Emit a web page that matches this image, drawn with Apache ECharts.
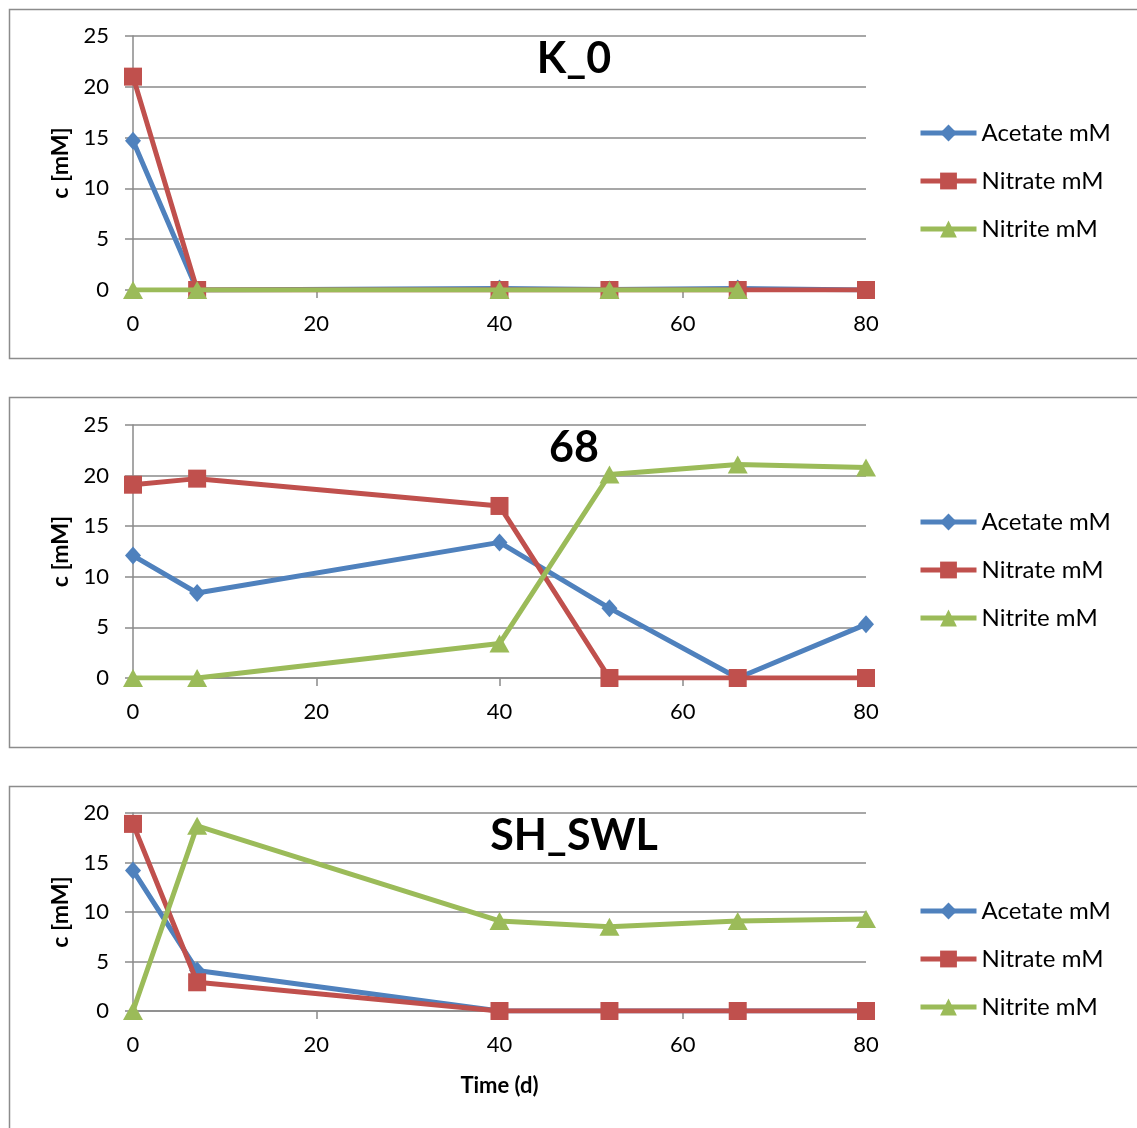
<!DOCTYPE html>
<html>
<head>
<meta charset="utf-8">
<script src="https://cdn.jsdelivr.net/npm/echarts@6/dist/echarts.min.js"></script>
<style>
  html, body { margin: 0; padding: 0; background: #fff; }
  #chart { width: 1137px; height: 1128px; }
</style>
</head>
<body>
<div id="chart"></div>
<script>
// Sampling days shared by all three incubations
const days = [0, 7, 40, 52, 66, 80];

// Panel titles
const panelTitles = ['K_0', '68', 'SH_SWL'];
const seriesNames = ['Acetate mM', 'Nitrate mM', 'Nitrite mM'];

// K_0
const k0Acetate = [14.7, 0, 0.15, 0.05, 0.15, 0];
const k0Nitrate = [21.0, 0, 0, 0, 0, 0];
const k0Nitrite = [0, 0, 0, 0, 0, null];

// 68
const s68Acetate = [12.1, 8.4, 13.4, 6.9, 0, 5.3];
const s68Nitrate = [19.1, 19.7, 17.0, 0, 0, 0];
const s68Nitrite = [0, 0, 3.4, 20.1, 21.1, 20.8];

// SH_SWL
const shAcetate = [14.2, 4.1, 0, 0, 0, 0];
const shNitrate = [18.9, 2.9, 0, 0, 0, 0];
const shNitrite = [0, 18.7, 9.1, 8.5, 9.1, 9.3];

// y-axis ranges per panel
const yMax = [25, 25, 20];
const yInterval = 5;
const xMax = 80;
const xInterval = 20;

const panelData = [
  [k0Acetate, k0Nitrate, k0Nitrite],
  [s68Acetate, s68Nitrate, s68Nitrite],
  [shAcetate, shNitrate, shNitrite]
];

const FONT = 'Lato, "Open Sans", sans-serif';
const GRID_COLOR = '#8a8a8a';
const colors = ['#4F81BD', '#C0504D', '#9BBB59'];
const symbols = ['diamond', 'rect', 'triangle'];
const symbolSizes = [[16, 18], [18, 18], [20, 18]];

// layout of the three stacked panels
const gridTops = [36, 425, 813];
const gridHeights = [254, 253, 198];
const legendTops = [114, 503, 892];
const titleTops = [33, 422, 810];
const frames = [
  { y: 7, h: 349 },
  { y: 395, h: 350 },
  { y: 784, h: 360 }
];

const grids = [], xAxes = [], yAxes = [], series = [], titles = [], legends = [];

for (let p = 0; p < 3; p++) {
  grids.push({ left: 133, width: 733, top: gridTops[p], height: gridHeights[p], containLabel: false });
  xAxes.push({
    type: 'value', gridIndex: p, min: 0, max: xMax, interval: xInterval,
    axisLine: { show: true, onZero: false, lineStyle: { color: GRID_COLOR, width: 1.5 } },
    axisTick: { show: true, inside: false, length: 8, lineStyle: { color: GRID_COLOR, width: 1.5 } },
    splitLine: { show: false },
    axisLabel: { color: '#000', fontSize: 22, fontFamily: FONT, margin: 23 },
    name: p === 2 ? 'Time (d)' : '',
    nameLocation: 'middle', nameGap: 64,
    nameTextStyle: { color: '#000', fontSize: 22, fontWeight: 'bold', fontFamily: FONT }
  });
  yAxes.push({
    type: 'value', gridIndex: p, min: 0, max: yMax[p], interval: yInterval,
    axisLine: { show: true, lineStyle: { color: GRID_COLOR, width: 1.5 } },
    axisTick: { show: true, inside: false, length: 8, lineStyle: { color: GRID_COLOR, width: 1.5 } },
    splitLine: { show: true, lineStyle: { color: GRID_COLOR, width: 1.5 } },
    axisLabel: { color: '#000', fontSize: 22, fontFamily: FONT, margin: 24 },
    name: 'c [mM]', nameLocation: 'middle', nameRotate: 90, nameGap: 61,
    nameTextStyle: { color: '#000', fontSize: 23, fontWeight: 'bold', fontFamily: FONT }
  });
  titles.push({
    text: panelTitles[p], left: 569, top: titleTops[p], textAlign: 'center',
    textStyle: { color: '#000', fontSize: 43, fontWeight: 'bold', fontFamily: FONT }
  });
  legends.push({
    data: seriesNames, orient: 'vertical', left: 913, top: legendTops[p],
    itemWidth: 56, itemHeight: 21, itemGap: 20,
    lineStyle: { width: 5 },
    textStyle: { color: '#000', fontSize: 24, fontFamily: FONT, lineHeight: 28 }
  });
  for (let s = 0; s < 3; s++) {
    series.push({
      name: seriesNames[s], type: 'line', xAxisIndex: p, yAxisIndex: p,
      data: days.map((d, i) => [d, panelData[p][s][i]]),
      symbol: symbols[s], symbolSize: symbolSizes[s], showAllSymbol: true,
      connectNulls: false,
      lineStyle: { color: colors[s], width: 5 },
      itemStyle: { color: colors[s] },
      emphasis: { disabled: true },
      animation: false, z: 2 + s
    });
  }
}

// panel borders
const graphic = frames.map(f => ({
  type: 'rect', left: 7, top: f.y, silent: true,
  shape: { width: 1140, height: f.h },
  style: { fill: 'none', stroke: '#8c8c8c', lineWidth: 1.5 }
}));

const chart = echarts.init(document.getElementById('chart'), null, { renderer: 'canvas' });
chart.setOption({
  animation: false,
  backgroundColor: '#fff',
  title: titles,
  legend: legends,
  grid: grids,
  xAxis: xAxes,
  yAxis: yAxes,
  series: series,
  graphic: graphic
});
</script>
</body>
</html>
